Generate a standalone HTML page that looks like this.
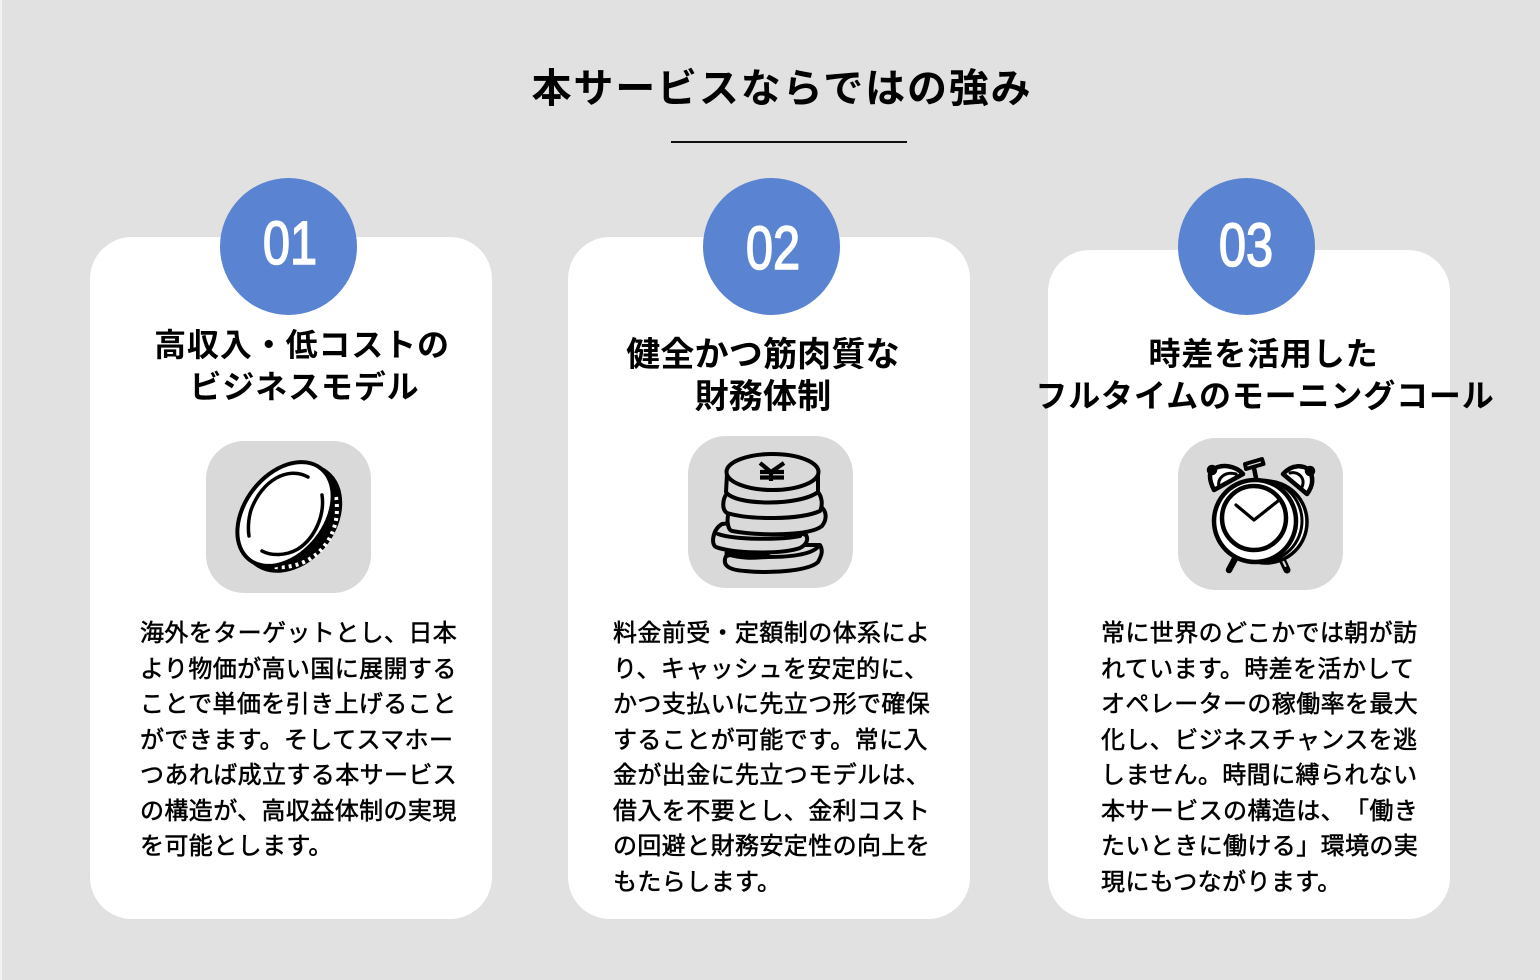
<!DOCTYPE html>
<html lang="ja"><head><meta charset="utf-8"><style>
html,body{margin:0;padding:0;width:1540px;height:980px;overflow:hidden;background:#e1e1e1}
body{position:relative;font-family:"Liberation Sans","Noto Sans CJK JP",sans-serif;color:#000;text-spacing-trim:space-all}
.abs,.card,.circ,.ic,.num,.h,.b{position:absolute}
.card{background:#fff;border-radius:42px}
.circ{width:137px;height:137px;border-radius:50%;background:#5a83d1;top:178px}
.ic{background:#d9d9d9;border-radius:38px;width:165px;height:152px}
.num{color:#fff;font-size:61px;font-weight:400;-webkit-text-stroke:1.6px #fff;line-height:70px;transform:scaleX(.8);transform-origin:center;text-align:center;width:120px}
.h{font-size:32px;font-weight:700;letter-spacing:.85px;line-height:42px;text-align:center;white-space:nowrap}
.h span{position:relative}
.b{font-size:24px;font-weight:400;-webkit-text-stroke:.55px #000;letter-spacing:.4px;line-height:35.5px;white-space:nowrap}
svg{position:absolute;overflow:visible}
</style></head><body>
<div class="abs" style="left:0;top:0;width:2px;height:980px;background:#f2f2f2"></div>
<div class="abs" style="left:400px;top:61px;width:764px;text-align:center;font-size:40px;font-weight:700;letter-spacing:1.85px;line-height:56px;white-space:nowrap">本サービスならではの強み</div>
<div class="abs" style="left:671px;top:141px;width:236px;height:2px;background:#111"></div>

<div class="card" style="left:90px;top:237px;width:402px;height:682px"></div>
<div class="card" style="left:568px;top:237px;width:402px;height:682px"></div>
<div class="card" style="left:1048px;top:250px;width:402px;height:669px"></div>

<div class="circ" style="left:220px"></div>
<div class="circ" style="left:703px"></div>
<div class="circ" style="left:1178px"></div>
<div class="num" style="left:229.500px;top:207.500px">01</div>
<div class="num" style="left:712.500px;top:213px">02</div>
<div class="num" style="left:1186px;top:210px">03</div>

<div class="h" style="left:2px;top:324px;width:600px">高収入・低コストの<br><span style="left:2.500px">ビジネスモデル</span></div>
<div class="h" style="left:463px;top:334px;width:600px;font-size:34px;letter-spacing:.2px">健全かつ筋肉質な<br>財務体制</div>
<div class="h" style="left:965px;top:333px;width:600px"><span style="left:-1.500px">時差を活用した</span><br>フルタイムのモーニングコール</div>

<div class="ic" style="left:206px;top:441px"></div>
<div class="ic" style="left:688px;top:436px"></div>
<div class="ic" style="left:1178px;top:438px"></div>

<svg style="left:0;top:0" width="1540" height="980" viewBox="0 0 1540 980" fill="none" stroke="#000" stroke-linecap="round" stroke-linejoin="round">
<!-- coin -->
<g>
<ellipse cx="291" cy="518" rx="45" ry="60" transform="rotate(38 291 518)" fill="#000" stroke="none"/>
<path d="M336 497Q341 530 319 552Q300 569 274 567" stroke="#fff" stroke-width="4" stroke-dasharray="3 4" stroke-linecap="butt"/>
<ellipse cx="285" cy="514" rx="40" ry="58" transform="rotate(38 285 514)" fill="#fff" stroke="#000" stroke-width="4"/>
<path d="M308 477C288 466 262 480 251 510C248 520 248 530 249 536" stroke-width="3.500"/>
<path d="M322 495C325 515 315 538 298 549C286 556 271 556 262 551" stroke-width="3.500"/>
</g>
<!-- yen coins -->
<g stroke-width="4" fill="#d9d9d9">
<path d="M726 556C722 565 728 570 745 571C775 574 810 570 818 562C822 555 823 550 820 545L770 545Z"/>
<path d="M727 554C745 560 760 557 768 557C790 557 810 555 818 547"/>
<path d="M727 553C745 556 755 556 768 556" stroke-width="5"/>
<path d="M722 524C712 530 711 545 716 547C730 553 780 555 800 548C808 544 808 538 806 535L760 520Z"/>
<path d="M718 534C735 540 780 540 800 536"/>
<path d="M729 512C726 520 728 530 732 531C760 536 810 536 822 526C828 518 826 510 820 506Z"/>
<path d="M727 493C722 500 722 510 727 513C750 520 800 520 820 511C823 505 822 497 818 492Z"/>
<path d="M727 474L726 492C735 506 800 506 818 492L818 474Z"/>
<ellipse cx="772.500" cy="472" rx="46" ry="18"/>
<path d="M760 463L771 472L784 463M771 472V481M760 472H784M760 477.500H784" stroke-width="4.200" fill="none" stroke-linecap="butt"/>
</g>
<!-- clock -->
<g stroke-width="4.500">
<path d="M1245 464L1262 459L1263.500 464L1246 469Z" fill="#d9d9d9" stroke-width="4"/>
<path d="M1254 468L1256 478"/>
<path d="M1237 555L1229 570" stroke-width="6.500"/>
<path d="M1280 555L1287 570" stroke-width="7"/>
<path d="M1280.500 556L1285.500 566" stroke="#d9d9d9" stroke-width="2"/>
<path d="M1214 490C1208 478 1210 472 1212 470C1222 463 1236 466 1243 474Z" fill="#fff"/>
<path d="M1219 487C1217 478 1225 471 1236 474" stroke-width="3"/>
<path d="M1283 474C1292 464 1303 465 1309 470C1314 478 1313 486 1307 494Z" fill="#fff"/>
<path d="M1302 487C1306 478 1298 471 1290 473" stroke-width="3"/>
<circle cx="1212" cy="470" r="3" fill="#000"/>
<circle cx="1310" cy="471" r="3" fill="#000"/>
<circle cx="1266" cy="522" r="41" fill="#fff" stroke-width="3.500"/>
<circle cx="1261" cy="521" r="41" fill="#fff" stroke-width="3"/>
<circle cx="1255" cy="521" r="41" fill="#fff" stroke-width="4.500"/>
<circle cx="1254" cy="518" r="32" fill="#fff" stroke-width="4.500"/>
<path d="M1236 505L1254 520L1278 501" stroke-width="3.200"/>
</g>
</svg>

<div class="b" style="left:140px;top:616px">海外をターゲットとし、日本<br>より物価が高い国に展開する<br>ことで単価を引き上げること<br>ができます。そしてスマホー<br>つあれば成立する本サービス<br>の構造が、高収益体制の実現<br>を可能とします。</div>
<div class="b" style="left:613px;top:616px">料金前受・定額制の体系によ<br>り、キャッシュを安定的に、<br>かつ支払いに先立つ形で確保<br>することが可能です。常に入<br>金が出金に先立つモデルは、<br>借入を不要とし、金利コスト<br>の回避と財務安定性の向上を<br>もたらします。</div>
<div class="b" style="left:1101px;top:616px">常に世界のどこかでは朝が訪<br>れています。時差を活かして<br>オペレーターの稼働率を最大<br>化し、ビジネスチャンスを逃<br>しません。時間に縛られない<br>本サービスの構造は、「働き<br>たいときに働ける」環境の実<br>現にもつながります。</div>
</body></html>
